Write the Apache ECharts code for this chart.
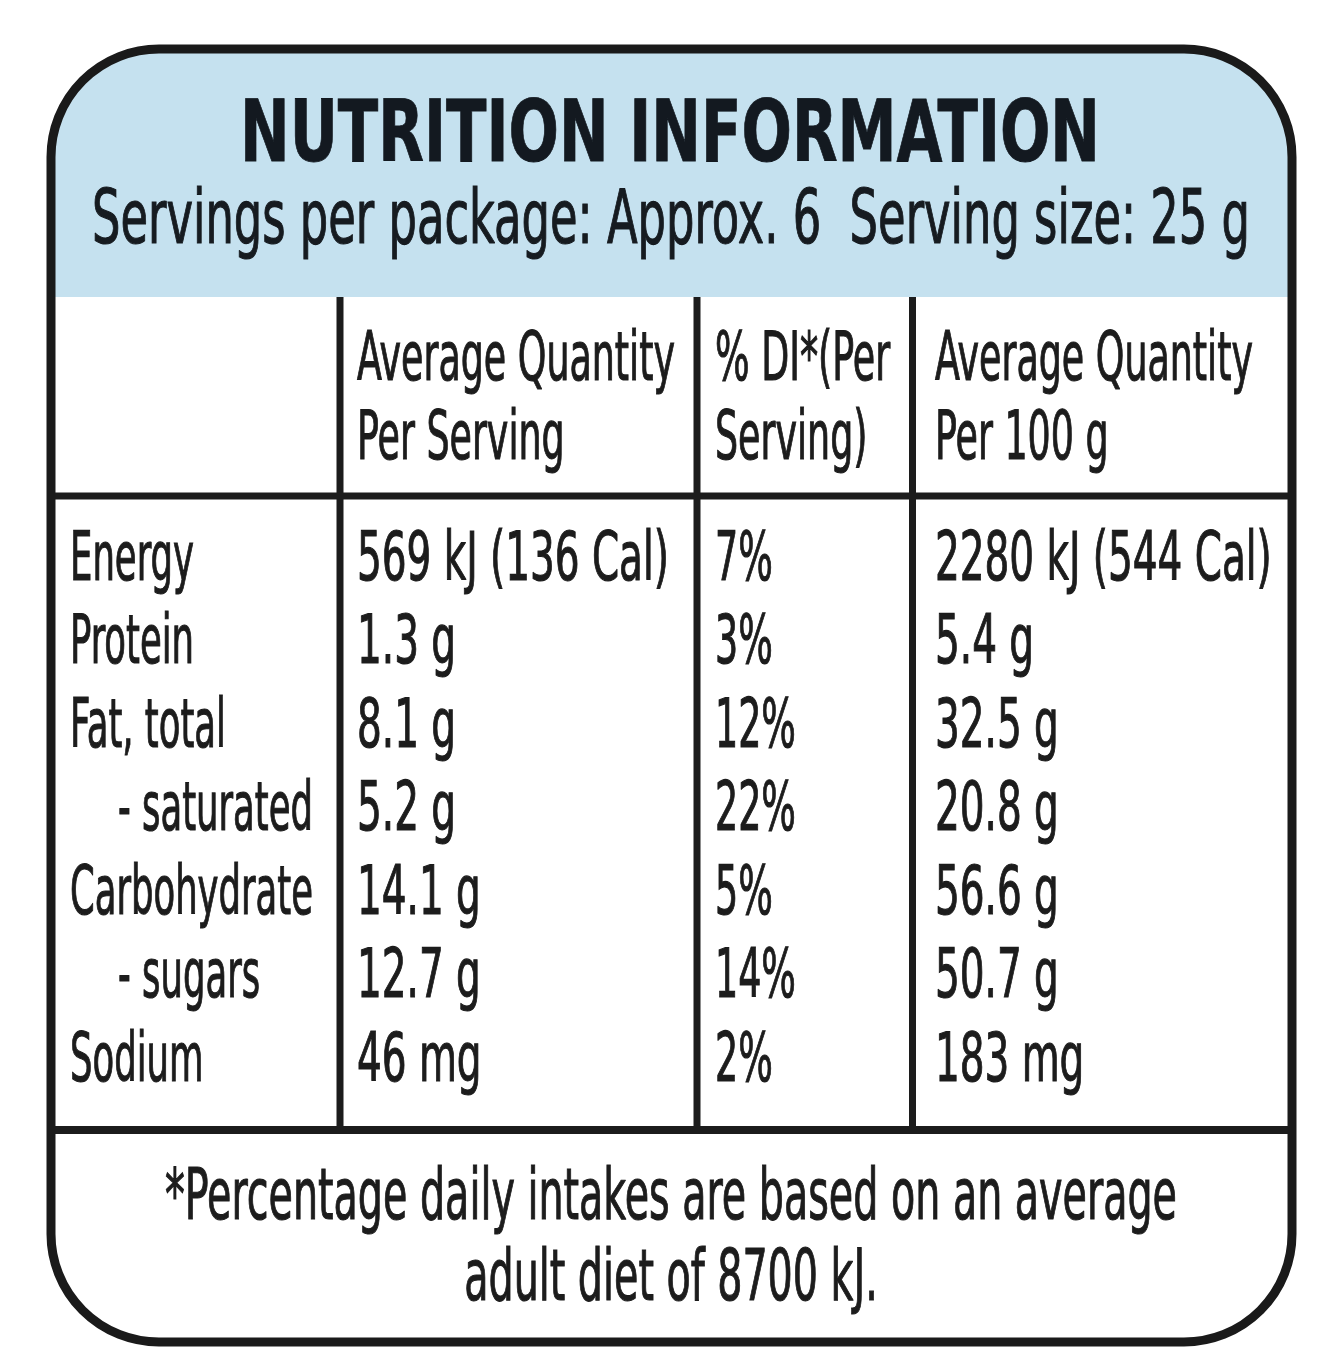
<!DOCTYPE html>
<html><head><meta charset="utf-8">
<script src="https://cdn.jsdelivr.net/npm/echarts@6/dist/echarts.min.js"></script>
<style>html,body{margin:0;padding:0;background:#fff}#c{width:1332px;height:1372px}</style>
</head><body><div id="c"></div>
<script>
// ---- data ----
const title = 'NUTRITION INFORMATION';
const servingsPerPackage = 6;
const servingSizeG = 25;
const columnHeaders = [['Average Quantity', 'Per Serving'], ['% DI*(Per', 'Serving)'], ['Average Quantity', 'Per 100 g']];
const nutrients = ['Energy', 'Protein', 'Fat, total', '- saturated', 'Carbohydrate', '- sugars', 'Sodium'];
const units = ['kJ', 'g', 'g', 'g', 'g', 'g', 'mg'];
const perServing = [569, 1.3, 8.1, 5.2, 14.1, 12.7, 46];
const perServingCal = 136;
const percentDI = [7, 3, 12, 22, 5, 14, 2];
const per100g = [2280, 5.4, 32.5, 20.8, 56.6, 50.7, 183];
const per100gCal = 544;
const dietKJ = 8700;
const footnote = ['*Percentage daily intakes are based on an average', 'adult diet of ' + dietKJ + ' kJ.'];

// ---- layout ----
const FAM = '"Liberation Sans Narrow","DejaVu Sans Condensed","Roboto","Liberation Sans",sans-serif';
const ctx = document.createElement('canvas').getContext('2d');
function measure(t, font) { ctx.font = font; return ctx.measureText(t).width; }
const F = 68;
const regFont = F + 'px ' + FAM;
const subFont = '74px ' + FAM;
const footFont = '72px ' + FAM;
const titleFont = 'bold 86px ' + FAM;
const subtitle = 'Servings per package: Approx. ' + servingsPerPackage + '  Serving size: ' + servingSizeG + ' g';
function fmt(v, i, cal) { return i === 0 ? v + ' kJ (' + cal + ' Cal)' : v + ' ' + units[i]; }

const kName = 243 / measure('Carbohydrate', regFont);
const kHead = 318 / measure('Average Quantity', regFont);
const kVal = 312 / measure(fmt(perServing[0], 0, perServingCal), regFont);
const kTitle = 860 / measure(title, titleFont);
const kSub = 1158 / measure(subtitle, subFont);
const kFoot = 1012 / measure(footnote[0], footFont);
const INK = '#1c1c1c';

const L = 51, R = 1292, T = 49, B = 1342, RAD = 108;
const headerBottom = 297, colHeadLine = 496, footLine = 1130;
const vx = [340, 697, 912.5];
const textX = [70, 357, 715, 935];

const g = [];
function txt(text, x, y, font, k, align, fill, sw) {
  const c = fill || INK;
  g.push({ type: 'text', x: x, y: y, scaleX: k, z: 10,
    style: { text: text, x: 0, y: 0, font: font, fill: c, stroke: sw ? c : null, lineWidth: sw || 0,
      align: align || 'left', verticalAlign: 'middle' } });
}
// background + header band
g.push({ type: 'rect', shape: { x: L, y: T, width: R - L, height: B - T, r: RAD }, style: { fill: '#ffffff' }, z: 1 });
g.push({ type: 'rect', shape: { x: L, y: T, width: R - L, height: headerBottom - T, r: [RAD, RAD, 0, 0] }, style: { fill: '#c5e1ef' }, z: 2 });
// grid lines
g.push({ type: 'line', shape: { x1: L, y1: colHeadLine, x2: R, y2: colHeadLine }, style: { stroke: INK, lineWidth: 7 }, z: 5 });
g.push({ type: 'line', shape: { x1: L, y1: footLine, x2: R, y2: footLine }, style: { stroke: INK, lineWidth: 8 }, z: 5 });
vx.forEach(x => g.push({ type: 'line', shape: { x1: x, y1: headerBottom, x2: x, y2: footLine }, style: { stroke: INK, lineWidth: 7 }, z: 5 }));
// outer border
g.push({ type: 'rect', shape: { x: L, y: T, width: R - L, height: B - T, r: RAD }, style: { fill: null, stroke: '#1a1a1a', lineWidth: 9 }, z: 6 });

// header texts
txt(title, 670, 139, titleFont, kTitle, 'center', '#131920', 0.8);
txt(subtitle, 671, 224, subFont, kSub, 'center', '#161b20', 1.1);

columnHeaders.forEach((lines, c) => {
  lines.forEach((t, j) => txt(t, textX[c + 1], 362 + j * 79, regFont, kHead, 'left', INK, 1.1));
});

nutrients.forEach((n, i) => {
  const y = 562 + i * 83.5;
  const indented = n.charAt(0) === '-';
  txt(n, indented ? 118 : textX[0], y, regFont, kName, 'left', INK, 1.1);
  txt(fmt(perServing[i], i, perServingCal), textX[1], y, regFont, kVal, 'left', INK, 1.1);
  txt(percentDI[i] + '%', textX[2], y, regFont, kHead, 'left', INK, 1.1);
  txt(fmt(per100g[i], i, per100gCal), textX[3], y, regFont, kVal, 'left', INK, 1.1);
});

footnote.forEach((t, j) => txt(t, 671, 1200 + j * 81, footFont, kFoot, 'center', INK, 1.1));

const chart = echarts.init(document.getElementById('c'), null, { renderer: 'canvas' });
chart.setOption({ animation: false, graphic: { elements: g } });
</script></body></html>
